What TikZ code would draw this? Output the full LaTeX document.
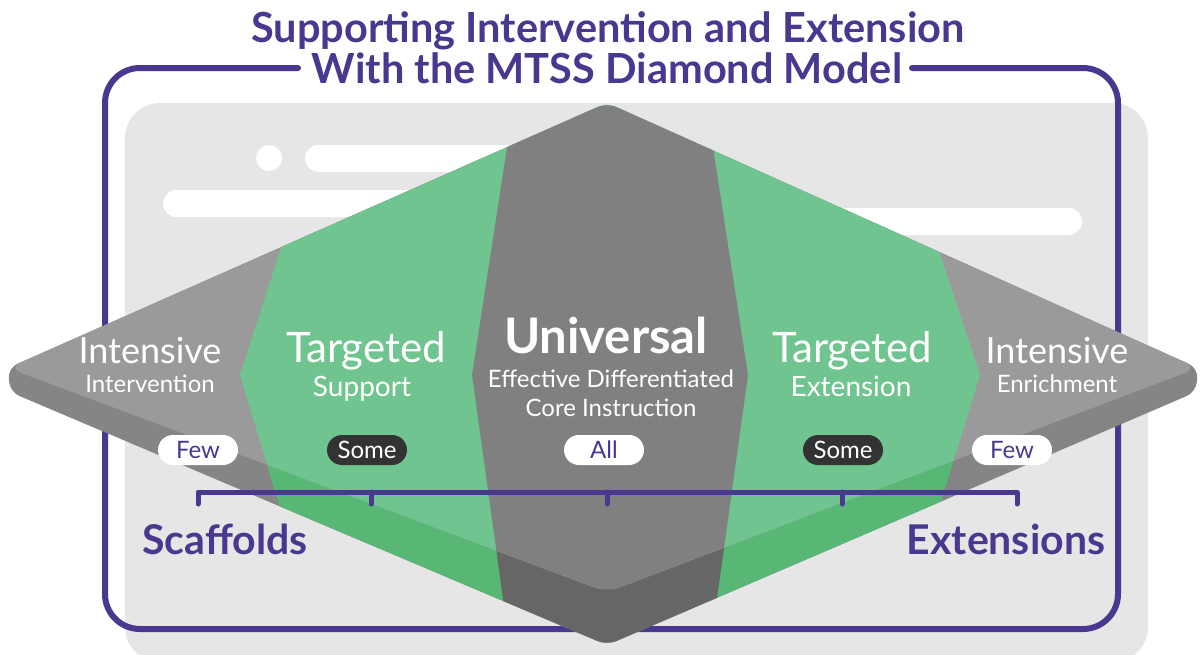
\documentclass[tikz,border=0pt]{standalone}
\usepackage{fontspec}
\setmainfont{Lato}
\definecolor{purp}{HTML}{4A3790}
\definecolor{panel}{HTML}{E6E6E6}
\definecolor{graytop}{HTML}{9A9A9A}
\definecolor{grayside}{HTML}{858585}
\definecolor{centop}{HTML}{808080}
\definecolor{censide}{HTML}{666666}
\definecolor{greentop}{HTML}{6FC48F}
\definecolor{greenside}{HTML}{58B774}
\definecolor{pilldark}{HTML}{333333}
\tikzset{
  pillw/.style={fill=white, rounded corners=15pt, minimum width=80pt, minimum height=30pt, inner sep=0pt, text=purp, font=\fontsize{24}{24}\selectfont},
  pilld/.style={pillw, fill=pilldark, text=white},
  bigt/.style={text=white, anchor=base, font=\fontsize{36}{36}\selectfont},
  smallt/.style={text=white, anchor=base, font=\fontsize{24}{24}\selectfont},
  headt/.style={text=purp, anchor=base, font=\bfseries\fontsize{41.5}{41.5}\selectfont},
  sidet/.style={text=purp, anchor=base, font=\bfseries\fontsize{41}{41}\selectfont},
  bracket/.style={draw=purp, line width=5pt, line cap=round, line join=round}
}
\begin{document}
\begin{tikzpicture}[x=1pt,y=-1pt]
\useasboundingbox (0,0) rectangle (1202,654);
% background panel
\fill[panel, rounded corners=35pt] (125,103) rectangle (1148,662);
% white decorations
\fill[white] (269,158) circle (13);
\fill[white, rounded corners=13.5pt] (305,145) rectangle (620,172);
\fill[white, rounded corners=13.5pt] (163,190) rectangle (520,217);
\fill[white, rounded corners=13.5pt] (760,208) rectangle (1082,235);
% frame
\draw[purp, line width=6pt, rounded corners=35pt, line cap=round] (298,68) -- (105,68) -- (105,629) -- (1118,629) -- (1118,68) -- (912,68);
% diamond coordinates
\coordinate (L) at (8,368);
\coordinate (T) at (607,103);
\coordinate (R) at (1198,368);
\coordinate (B) at (607,592);
\coordinate (SL) at (10,392);
\coordinate (SR) at (1196,392);
\coordinate (SB) at (607,645);
% side (whole shape)
\begin{scope}
  \clip[rounded corners=10pt] (L) -- (T) -- (R) -- (SR) -- (SB) -- (SL) -- cycle;
  \fill[grayside] (0,50) rectangle (1202,700);
  \fill[greenside] (345,50) -- (873,50) -- (980,375) -- (880,700) -- (338,700) -- (240,375) -- cycle;
  \fill[censide] (522,50) -- (698,50) -- (748,375) -- (703,700) -- (517,700) -- (472,375) -- cycle;
\end{scope}
% top face
\begin{scope}
  \clip[rounded corners=14pt] (L) -- (T) -- (R) -- (B) -- cycle;
  \fill[graytop] (0,50) rectangle (1202,700);
  \fill[greentop] (345,50) -- (873,50) -- (980,375) -- (880,700) -- (338,700) -- (240,375) -- cycle;
  \fill[centop] (522,50) -- (698,50) -- (748,375) -- (703,700) -- (517,700) -- (472,375) -- cycle;
\end{scope}
% title
\node[headt] (title1) at (608,42) {Supporting Intervention and Extension};
\node[headt] (title2) at (607,83) {With the MTSS Diamond Model};
% band labels
\node[bigt] (i1) at (150,363) {Intensive};
\node[smallt] (i1b) at (150,392) {Intervention};
\node[bigt, font=\fontsize{42}{42}\selectfont] (t1) at (366,362) {Targeted};
\node[smallt, font=\fontsize{28}{28}\selectfont] (t1b) at (362,396) {Support};
\node[bigt, font=\bfseries\fontsize{49}{49}\selectfont] (u) at (606,353) {Universal};
\node[smallt, font=\fontsize{24}{24}\selectfont] (u1) at (611,387) {Effective Differentiated};
\node[smallt, font=\fontsize{24}{24}\selectfont] (u2) at (611,416) {Core Instruction};
\node[bigt, font=\fontsize{42}{42}\selectfont] (t2) at (852,362) {Targeted};
\node[smallt, font=\fontsize{28}{28}\selectfont] (t2b) at (851,396) {Extension};
\node[bigt] (i2) at (1057,363) {Intensive};
\node[smallt] (i2b) at (1057,392) {Enrichment};
% bracket
\coordinate (k1) at (198,492);
\coordinate (k2) at (371,492);
\coordinate (k3) at (607,492);
\coordinate (k4) at (842,492);
\coordinate (k5) at (1017,492);
\draw[bracket] ([yshift=-12pt]k1) -- (k1) -- (k5) -- ([yshift=-12pt]k5);
\draw[bracket] ([yshift=-12pt]k2) -- (k2);
\draw[bracket] ([yshift=-12pt]k3) -- (k3);
\draw[bracket] ([yshift=-12pt]k4) -- (k4);
% pills
\node[pillw] (p1) at (198,450) {Few};
\node[pilld] (p2) at (367,450) {Some};
\node[pillw] (p3) at (604,450) {All};
\node[pilld] (p4) at (843,450) {Some};
\node[pillw] (p5) at (1012,450) {Few};
% side labels
\node[sidet] (sc) at (225,554) {Scaffolds};
\node[sidet] (ex) at (1006,554) {Extensions};
\end{tikzpicture}
\end{document}
